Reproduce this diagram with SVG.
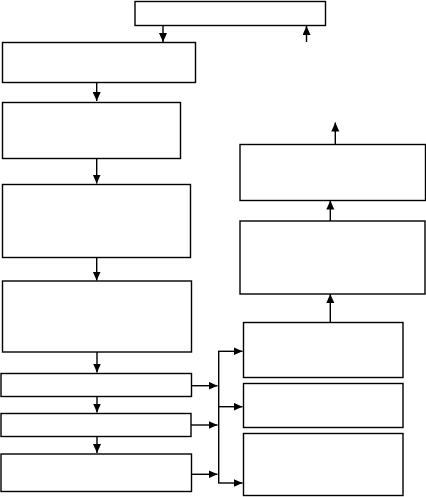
<svg xmlns="http://www.w3.org/2000/svg" width="426" height="497" viewBox="0 0 426 497">
<style>
.box{fill:#fff;stroke:#000;stroke-width:1.4}
.ln{fill:none;stroke:#000;stroke-width:1.4}
</style>
<defs>
<marker id="ah" markerUnits="userSpaceOnUse" markerWidth="10" markerHeight="9" refX="9" refY="4" orient="auto">
<path d="M0,0 L9,4 L0,8 Z" fill="#000"/>
</marker>
</defs>
<rect width="426" height="497" fill="#fff"/>
<g id="n-top"><rect class="box" x="135" y="1.5" width="190.5" height="24"/></g>
<g id="n-l1"><rect class="box" x="2.5" y="42.5" width="193" height="40"/></g>
<g id="n-l2"><rect class="box" x="2.5" y="102.5" width="178" height="56"/></g>
<g id="n-l3"><rect class="box" x="2.5" y="184.5" width="188" height="73"/></g>
<g id="n-l4"><rect class="box" x="2.5" y="281" width="189" height="71"/></g>
<g id="n-l5"><rect class="box" x="1" y="373.5" width="190.5" height="23"/></g>
<g id="n-l6"><rect class="box" x="1" y="413.5" width="190" height="23"/></g>
<g id="n-l7"><rect class="box" x="1" y="454" width="190.5" height="37.5"/></g>
<g id="n-r1"><rect class="box" x="240" y="144.5" width="185.5" height="56"/></g>
<g id="n-r2"><rect class="box" x="240" y="221" width="185" height="73"/></g>
<g id="n-r3"><rect class="box" x="243.5" y="322.5" width="159.5" height="55"/></g>
<g id="n-r4"><rect class="box" x="243.5" y="383.5" width="159.5" height="44"/></g>
<g id="n-r5"><rect class="box" x="243.5" y="433.5" width="159.5" height="62"/></g>
<g id="connectors">
<line class="ln" x1="163" y1="25.5" x2="163" y2="42" marker-end="url(#ah)"/>
<line class="ln" x1="306.5" y1="42" x2="306.5" y2="26" marker-end="url(#ah)"/>
<line class="ln" x1="96.7" y1="82.5" x2="96.7" y2="101" marker-end="url(#ah)"/>
<line class="ln" x1="96.7" y1="158.5" x2="96.7" y2="183.5" marker-end="url(#ah)"/>
<line class="ln" x1="96.7" y1="257.5" x2="96.7" y2="280.5" marker-end="url(#ah)"/>
<line class="ln" x1="97" y1="352" x2="97" y2="372.5" marker-end="url(#ah)"/>
<line class="ln" x1="97" y1="396.5" x2="97" y2="412.5" marker-end="url(#ah)"/>
<line class="ln" x1="97" y1="436.5" x2="97" y2="453" marker-end="url(#ah)"/>
<line class="ln" x1="335.3" y1="144.5" x2="335.3" y2="122.5" marker-end="url(#ah)"/>
<line class="ln" x1="330.3" y1="221" x2="330.3" y2="200.5" marker-end="url(#ah)"/>
<line class="ln" x1="330.3" y1="322.5" x2="330.3" y2="294" marker-end="url(#ah)"/>
<line class="ln" x1="191" y1="385.7" x2="217.5" y2="385.7" marker-end="url(#ah)"/>
<line class="ln" x1="191" y1="425" x2="217.5" y2="425" marker-end="url(#ah)"/>
<line class="ln" x1="191" y1="474.3" x2="217.5" y2="474.3" marker-end="url(#ah)"/>
<line class="ln" x1="218.7" y1="351.3" x2="218.7" y2="483"/>
<line class="ln" x1="218" y1="351.3" x2="242.5" y2="351.3" marker-end="url(#ah)"/>
<line class="ln" x1="218" y1="406.7" x2="242.5" y2="406.7" marker-end="url(#ah)"/>
<line class="ln" x1="218" y1="483" x2="242.5" y2="483" marker-end="url(#ah)"/>
</g>
</svg>
